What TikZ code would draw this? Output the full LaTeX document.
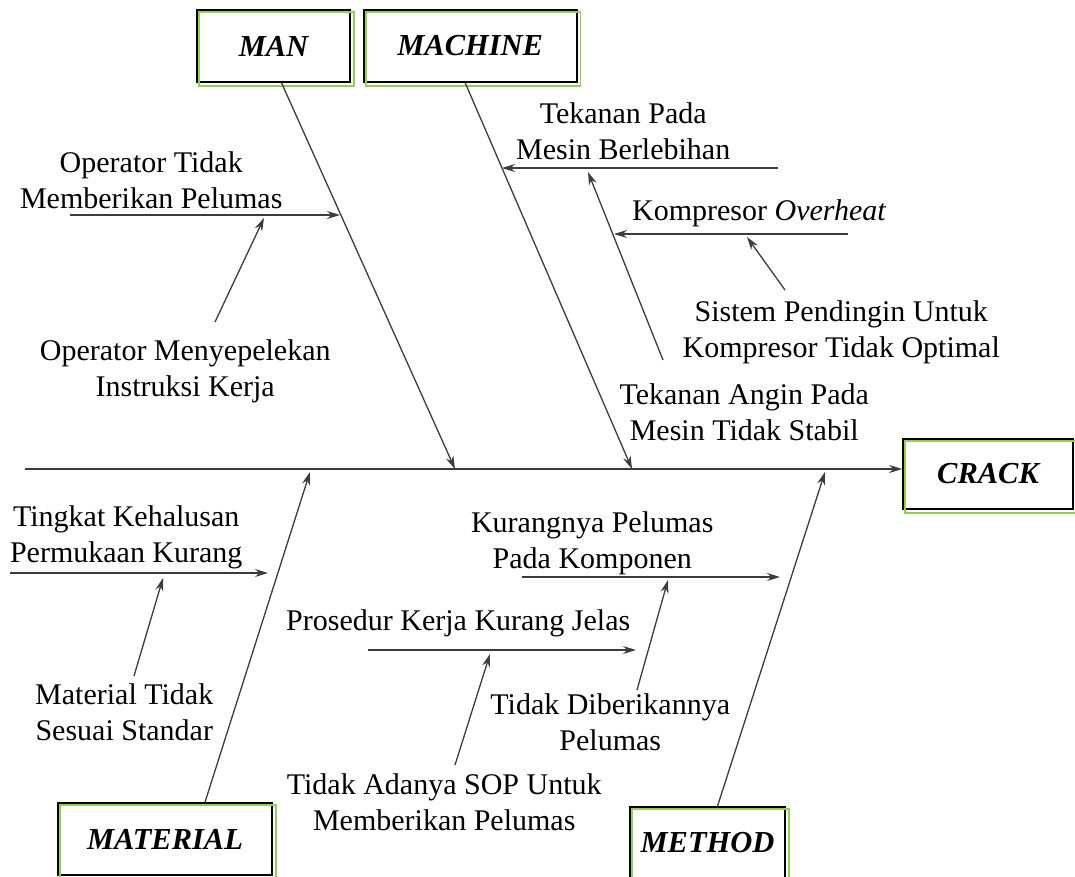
\documentclass[tikz,border=0pt]{standalone}
\usepackage{fontspec}
\setmainfont{Liberation Serif}
\usepackage{tikz}
\usetikzlibrary{arrows.meta}
\usetikzlibrary{positioning}

\definecolor{boneGray}{RGB}{60,60,60}
\definecolor{shadowGreen}{RGB}{146,208,80}

\tikzset{
  category/.style={draw=black, line width=1.7pt, minimum height=72pt, inner sep=0pt,
    font=\fontsize{30.5}{36}\selectfont\bfseries\itshape},
  cause/.style={inner sep=0pt, align=center},
  every edge/.style={draw=boneGray, line width=1.3pt}
}

\begin{document}
\begin{tikzpicture}[x=1pt, y=-1pt, ->, >={Stealth[length=13pt,width=8pt]},
    font=\fontsize{30}{36}\selectfont]
    \useasboundingbox (0,0) rectangle (1075,877);

    % CATEGORY BOXES
    \node[category, minimum width=153pt] (MAN) at (273.5,46) {MAN};
    \node[category, minimum width=213pt, right=12pt of MAN] (MACHINE) {MACHINE};
    \node[category, minimum width=170pt, minimum height=70pt] (CRACK) at (988,474) {CRACK};
    \node[category, minimum width=214pt] (MATERIAL) at (165,839) {MATERIAL};
    \node[category, minimum width=155pt] (METHOD) at (707.5,843) {METHOD};

    \foreach \cat in {MAN, MACHINE, CRACK, MATERIAL, METHOD}
      \draw[-, shadowGreen, line width=1.4pt]
        ([shift={(3,3)}]\cat.south west) rectangle ([shift={(3,3)}]\cat.north east);

    % MAN CAUSES
    \node[cause] (OPERATOR_TIDAK_MEMBERIKAN) at (155,183)
    {
      \begin{tabular}{c}
        Operator Tidak \\ Memberikan Pelumas
      \end{tabular}
    };

    \node[cause] (OPERATOR_MENYEPELEKAN) at (189,371)
    {
      \begin{tabular}{c}
        Operator Menyepelekan \\ Instruksi Kerja
      \end{tabular}
    };

    % MACHINE CAUSES
    \node[cause] (TEKANAN_BERLEBIHAN) at (627,134)
    {
      \begin{tabular}{c}
        Tekanan Pada \\ Mesin Berlebihan
      \end{tabular}
    };

    \node[cause] (KOMPRESOR_OVERHEAT) at (763,213)
    {
      Kompresor \textit{Overheat}
    };

    \node[cause] (SISTEM_PENDINGIN) at (845,332)
    {
      \begin{tabular}{c}
        Sistem Pendingin Untuk \\ Kompresor Tidak Optimal
      \end{tabular}
    };

    \node[cause] (TEKANAN_TIDAK_STABIL) at (748,415)
    {
      \begin{tabular}{c}
        Tekanan Angin Pada \\ Mesin Tidak Stabil
      \end{tabular}
    };

    % MATERIAL CAUSES
    \node[cause] (TINGKAT_KEHALUSAN) at (130,537)
    {
      \begin{tabular}{c}
        Tingkat Kehalusan \\ Permukaan Kurang
      \end{tabular}
    };

    \node[cause] (MATERIAL_TIDAK_SESUAI) at (128,715)
    {
      \begin{tabular}{c}
        Material Tidak \\ Sesuai Standar
      \end{tabular}
    };

    % METHOD CAUSES
    \node[cause] (KURANGNYA_PELUMAS) at (596,543)
    {
      \begin{tabular}{c}
        Kurangnya Pelumas \\ Pada Komponen
      \end{tabular}
    };

    \node[cause] (PROSEDUR_KERJA) at (462,623)
    {
      Prosedur Kerja Kurang Jelas
    };

    \node[cause] (TIDAK_DIBERIKANNYA) at (614,725)
    {
      \begin{tabular}{c}
        Tidak Diberikannya \\ Pelumas
      \end{tabular}
    };

    \node[cause] (TIDAK_ADANYA_SOP) at (448,805)
    {
      \begin{tabular}{c}
        Tidak Adanya SOP Untuk \\ Memberikan Pelumas
      \end{tabular}
    };

    % LINE ENDS
    \coordinate (SPINE_TAIL) at (25,469);
    \coordinate (MAN_HEAD) at (455,469);
    \coordinate (MACHINE_HEAD) at (632,469);
    \coordinate (MATERIAL_HEAD) at (310,472);
    \coordinate (METHOD_HEAD) at (825,472);

    \coordinate (OPERATOR_TIDAK_TAIL) at (70,215);
    \coordinate (OPERATOR_TIDAK_HEAD) at (340,215);
    \coordinate (MENYEPELEKAN_TAIL) at (215,322);
    \coordinate (MENYEPELEKAN_HEAD) at (264,218);

    \coordinate (BERLEBIHAN_TAIL) at (778,168);
    \coordinate (BERLEBIHAN_HEAD) at (502,168);
    \coordinate (TIDAK_STABIL_TAIL) at (663,360);
    \coordinate (TIDAK_STABIL_HEAD) at (588,172);
    \coordinate (OVERHEAT_TAIL) at (848,234);
    \coordinate (OVERHEAT_HEAD) at (614,234);
    \coordinate (PENDINGIN_TAIL) at (785,290);
    \coordinate (PENDINGIN_HEAD) at (747,237);

    \coordinate (KEHALUSAN_TAIL) at (10,573);
    \coordinate (KEHALUSAN_HEAD) at (268,573);
    \coordinate (TIDAK_SESUAI_TAIL) at (134,676);
    \coordinate (TIDAK_SESUAI_HEAD) at (163,578);

    \coordinate (PELUMAS_TAIL) at (522,577);
    \coordinate (PELUMAS_HEAD) at (780,577);
    \coordinate (DIBERIKANNYA_TAIL) at (637,690);
    \coordinate (DIBERIKANNYA_HEAD) at (668,580);
    \coordinate (PROSEDUR_TAIL) at (368,650);
    \coordinate (PROSEDUR_HEAD) at (636,650);
    \coordinate (SOP_TAIL) at (455,765);
    \coordinate (SOP_HEAD) at (490,654);

    % LINES
    \path
    (SPINE_TAIL) edge (SPINE_TAIL -| CRACK.west)
    ([xshift=8]MAN.south) edge (MAN_HEAD)
    ([xshift=-5]MACHINE.south) edge (MACHINE_HEAD)
    ([xshift=40]MATERIAL.north) edge (MATERIAL_HEAD)
    ([xshift=10]METHOD.north) edge (METHOD_HEAD)
    (OPERATOR_TIDAK_TAIL) edge (OPERATOR_TIDAK_HEAD)
    (MENYEPELEKAN_TAIL) edge (MENYEPELEKAN_HEAD)
    (BERLEBIHAN_TAIL) edge (BERLEBIHAN_HEAD)
    (TIDAK_STABIL_TAIL) edge (TIDAK_STABIL_HEAD)
    (OVERHEAT_TAIL) edge (OVERHEAT_HEAD)
    (PENDINGIN_TAIL) edge (PENDINGIN_HEAD)
    (KEHALUSAN_TAIL) edge (KEHALUSAN_HEAD)
    (TIDAK_SESUAI_TAIL) edge (TIDAK_SESUAI_HEAD)
    (PELUMAS_TAIL) edge (PELUMAS_HEAD)
    (DIBERIKANNYA_TAIL) edge (DIBERIKANNYA_HEAD)
    (PROSEDUR_TAIL) edge (PROSEDUR_HEAD)
    (SOP_TAIL) edge (SOP_HEAD)
    ;
\end{tikzpicture}
\end{document}
